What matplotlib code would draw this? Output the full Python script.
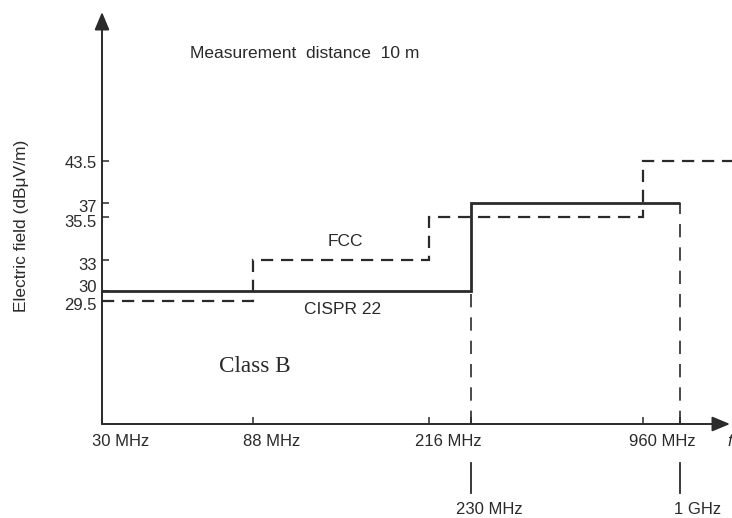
"""Radiated emission limits, Class B, FCC vs CISPR 22 (schematic)."""

import matplotlib

matplotlib.use("Agg")
import matplotlib.pyplot as plt
import numpy as np
from matplotlib.transforms import ScaledTranslation, blended_transform_factory

# limit levels in dBuV/m, measurement distance 10 m
fcc_edges = [30, 88, 216, 960, 1200]
fcc_levels = [29.5, 33, 35.5, 43.5]
cispr_edges = [30, 230, 1000]
cispr_levels = [30, 37]

y_ticks = [29.5, 30, 33, 35.5, 37, 43.5]
y_tick_labels = ["29.5", "30", "33", "35.5", "37", "43.5"]
x_ticks = [30, 88, 216, 960]
x_tick_labels = ["30 MHz", "88 MHz", "216 MHz", "960 MHz"]
x_marks = [230, 1000]
x_mark_labels = ["230 MHz", "1 GHz"]

# the drawing is schematic: axes are not proportional, map values to positions
X_VALS = [30, 88, 216, 230, 960, 1000, 1200]
X_POS = [0, 151, 327, 369, 541, 578, 630]
Y_VALS = [20, 29.5, 30, 33, 35.5, 37, 43.5, 50]
Y_POS = [0, 123, 133, 164, 207, 221, 263, 412]

INK = "#2a2a2a"
plt.rcParams["font.family"] = ["Liberation Sans", "DejaVu Sans"]


def fx(v):
    return np.interp(v, X_VALS, X_POS)


def ix(p):
    return np.interp(p, X_POS, X_VALS)


def fy(v):
    return np.interp(v, Y_VALS, Y_POS)


def iy(p):
    return np.interp(p, Y_POS, Y_VALS)


W, H = 732, 518
fig = plt.figure(figsize=(W / 100, H / 100), dpi=100)
ax = fig.add_axes([102 / W, 94 / H, 630 / W, 412 / H])
ax.set_xscale("function", functions=(fx, ix))
ax.set_yscale("function", functions=(fy, iy))
ax.set_xlim(X_VALS[0], X_VALS[-1])
ax.set_ylim(Y_VALS[0], Y_VALS[-1])
for s in ax.spines.values():
    s.set_visible(False)

# limit lines
ax.stairs(cispr_levels, cispr_edges, baseline=None, color=INK, lw=2.0)
ax.stairs(fcc_levels, fcc_edges, baseline=None, color=INK, lw=1.6,
          linestyle=(0, (5.5, 3.5)))
ax.vlines(x_marks, Y_VALS[0], [cispr_levels[0], cispr_levels[-1]], color=INK,
          lw=1.2, linestyle=(0, (8, 6)))

# axes with arrows
arrow = dict(arrowstyle="-|>,head_length=0.6,head_width=0.25", color=INK,
             lw=1.4, mutation_scale=18, shrinkA=0, shrinkB=0)
ax.annotate("", xy=(0, 1), xytext=(0, 0), xycoords="axes fraction", arrowprops=arrow)
ax.annotate("", xy=(628 / 630, 0), xytext=(0, 0), xycoords="axes fraction",
            arrowprops=arrow)

# inward ticks, labels drawn by hand
ax.set_xticks(x_ticks + x_marks)
ax.set_yticks(y_ticks)
ax.xaxis.set_minor_locator(matplotlib.ticker.NullLocator())
ax.yaxis.set_minor_locator(matplotlib.ticker.NullLocator())
ax.tick_params(direction="in", length=5, width=1.1, color=INK,
               labelbottom=False, labelleft=False)

dpi_t = fig.dpi_scale_trans
bx = blended_transform_factory(ax.transData, ax.transAxes)
by = blended_transform_factory(ax.transAxes, ax.transData)


def off(dx, dy):
    return ScaledTranslation(dx / 100, -dy / 100, dpi_t)


y_label_shift = [4, -3, 5, 5, 4, 2]
for v, lab, dy in zip(y_ticks, y_tick_labels, y_label_shift):
    ax.text(0, v, lab, transform=by + off(-5, dy), ha="right", va="center",
            fontsize=12, color=INK)

for v, lab in zip(x_ticks, x_tick_labels):
    ax.text(v, 0, lab, transform=bx + off(19, 17), ha="center", va="center",
            fontsize=12, color=INK)

for v, lab in zip(x_marks, x_mark_labels):
    ax.plot([v, v], [-39 / 412, -69 / 412], transform=bx, color=INK, lw=1.3,
            clip_on=False)
    ax.text(v, 0, lab, transform=bx + off(18, 86), ha="center", va="center",
            fontsize=12, color=INK)

# annotations
fig.text(190 / W, 1 - 54 / H, "Measurement  distance  10 m", ha="left", va="center",
         fontsize=12.5, color=INK)
fig.text(345 / W, 1 - 242 / H, "FCC", ha="center", va="center", fontsize=12.5,
         color=INK)
fig.text(343 / W, 1 - 310 / H, "CISPR 22", ha="center", va="center", fontsize=12.5,
         color=INK)
fig.text(219 / W, 1 - 367 / H, "Class B", ha="left", va="center", fontsize=16.7,
         family="Liberation Serif", color=INK)
fig.text(22 / W, 1 - 226 / H, "Electric field (dBμV/m)", rotation=90, ha="center",
         va="center", fontsize=12.5, color=INK)
fig.text(727 / W, 1 - 441 / H, "f", ha="left", va="center", fontsize=12,
         style="italic", color=INK)

fig.savefig("out.png", dpi=100)
plt.close(fig)
